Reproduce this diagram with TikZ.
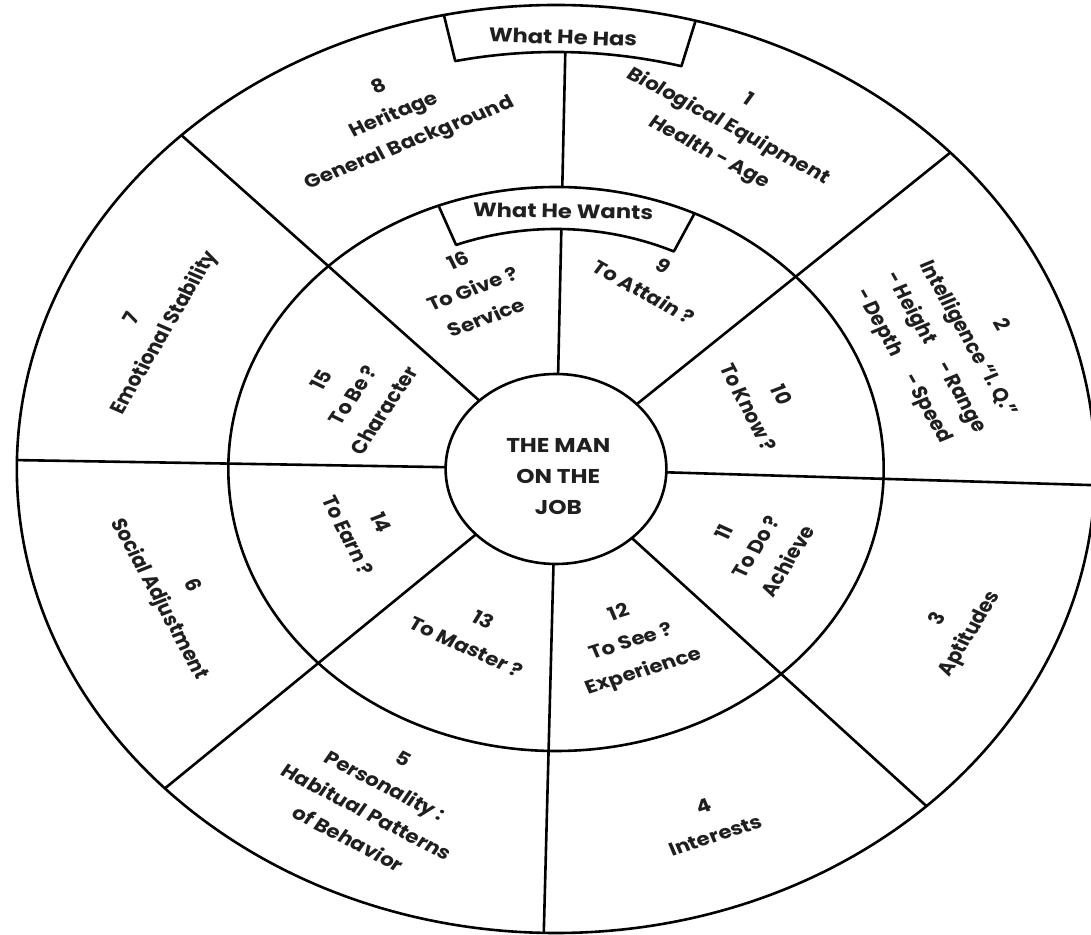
\documentclass[tikz,border=0pt]{standalone}
\usepackage{fontspec}
\setmainfont{Poppins}
\begin{document}
\begin{tikzpicture}[x=1pt,y=1pt]
\useasboundingbox (0,0) rectangle (1091,934);
\fill[white] (0,0) rectangle (1091,934);
\begin{scope}[shift={(556,465)}, xscale=1.162, transform shape,
  line width=2.6pt, line join=round,
  lab/.style={font=\fontsize{18.5}{31}\selectfont\bfseries, align=center, inner sep=0pt, text=black!88},
  boxlab/.style={font=\fontsize{19.5}{31}\selectfont\bfseries, align=center, inner sep=0pt, text=black!88}]
  % rings
  \draw (0,0) circle (464);
  \draw (0,0) circle (282);
  \draw (0,0) circle (95);
  % spokes
  \foreach \a in {43,-2,-46.6,-91.3,223.5,178.9,134}
    \draw (\a:95) -- (\a:464);
  \draw (88.9:95) -- (88.9:240);
  \draw (88.9:282) -- (88.9:417);
  % header boxes
  \draw (102:464) -- (102:417) arc[start angle=102, end angle=75, radius=417] -- (75:464);
  \draw (111:282) -- (111:240) arc[start angle=111, end angle=65, radius=240] -- (65:282);
  % labels
  \node[boxlab, rotate=-2] (has) at (6,432) {What He Has};
  \node[boxlab, rotate=-1] (wants) at (6,258) {What He Wants};
  \node[lab, font=\fontsize{20}{31}\selectfont\bfseries] (man) at (2,-8) {THE MAN\\ON THE\\JOB};
  \node[lab, rotate=-32] (s1) at (148,342) {1\\Biological Equipment\\Health - Age};
  \node[lab, rotate=-64] (s2) at (340,123) {2\\Intelligence ``I. Q.''\\- Height\quad\ - Range\\- Depth\quad\ - Speed};
  \node[lab, rotate=62] (s3) at (343,-158) {3\\Aptitudes};
  \node[lab, rotate=20] (s4) at (132,-352) {4\\Interests};
  \node[lab, rotate=-31] (s5) at (-155,-330) {5\\Personality :\\Habitual Patterns\\of Behavior};
  \node[lab, rotate=-65] (s6) at (-328,-124) {6\\Social Adjustment};
  \node[lab, rotate=63] (s7) at (-350,143) {7\\Emotional Stability};
  \node[lab, rotate=25] (s8) at (-139,353) {8\\Heritage\\General Background};
  \node[lab, rotate=-33] (m9) at (84,190) {9\\To Attain ?};
  \node[lab, rotate=-66] (m10) at (180,68) {10\\To Know ?};
  \node[lab, rotate=62] (m11) at (172,-78) {11\\To Do ?\\Achieve};
  \node[lab, rotate=20] (m12) at (65,-174) {12\\To See ?\\Experience};
  \node[lab, rotate=-28] (m13) at (-70,-164) {13\\To Master ?};
  \node[lab, rotate=-66] (m14) at (-165,-60) {14\\To Earn ?};
  \node[lab, rotate=60] (m15) at (-175,74) {15\\To Be ?\\Character};
  \node[lab, rotate=23] (m16) at (-72,180) {16\\To Give ?\\Service};
\end{scope}
\end{tikzpicture}
\end{document}
